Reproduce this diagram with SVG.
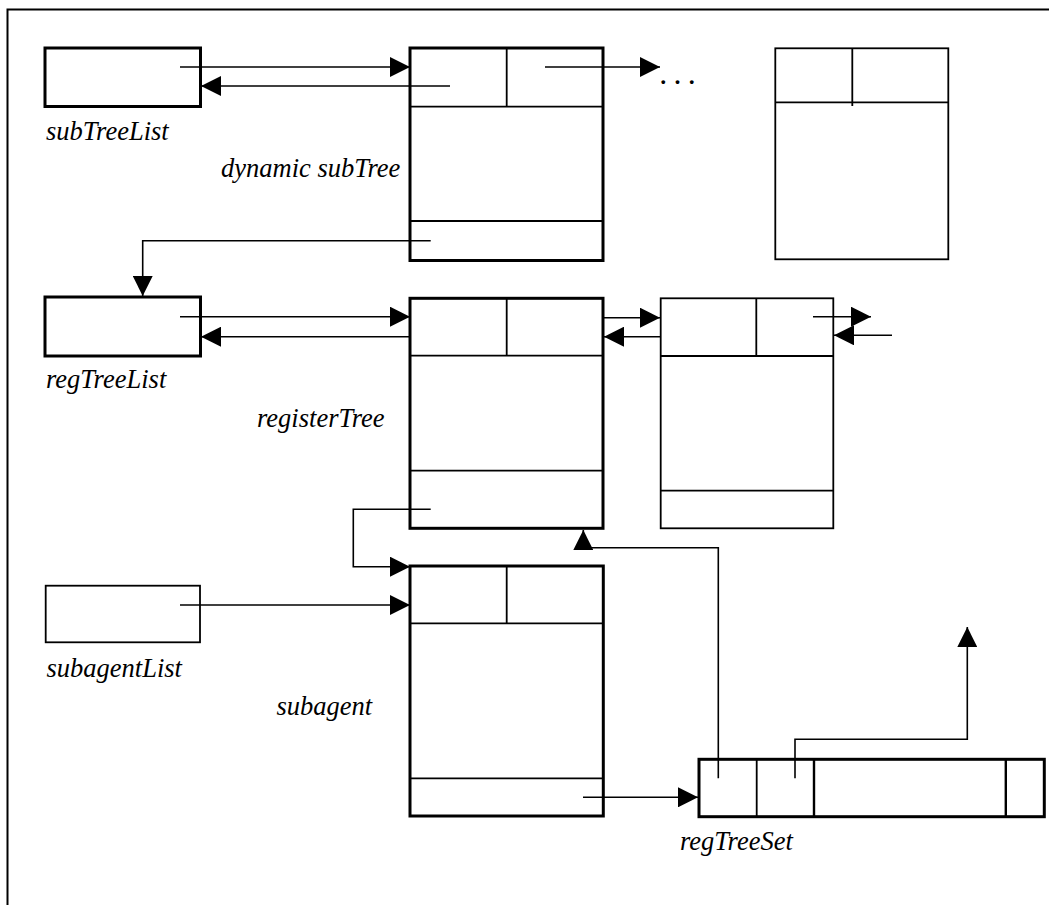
<svg xmlns="http://www.w3.org/2000/svg" width="1049" height="905" viewBox="0 0 1049 905">
<style>
  .thick { fill: #fff; stroke: #000; stroke-width: 3; }
  .thin { fill: #fff; stroke: #000; stroke-width: 1.8; }
  .div { fill: none; stroke: #000; stroke-width: 1.8; }
  .conn { fill: none; stroke: #000; stroke-width: 1.6; }
  .lbl { font-family: "Liberation Serif", "Times New Roman", serif; font-style: italic; font-size: 26.5px; fill: #000; }
  .dots { font-family: "Liberation Serif", "Times New Roman", serif; font-size: 32px; letter-spacing: -0.9px; fill: #000; }
</style>
<defs>
  <marker id="ah" markerUnits="userSpaceOnUse" markerWidth="20" markerHeight="20" viewBox="0 0 20 20" refX="20" refY="10" orient="auto">
    <path d="M0,0 L20,10 L0,20 z" fill="#000"/>
  </marker>
</defs>
<rect x="0" y="0" width="1049" height="905" fill="#fff"/>
<rect id="frame" x="7.5" y="9.5" width="1050" height="920" fill="none" stroke="#000" stroke-width="2"/>

<g id="subTreeList">
  <rect class="thick" x="45" y="48" width="155.5" height="58.5"/>
  <text class="lbl" x="46" y="140">subTreeList</text>
</g>

<g id="dynamicSubTree">
  <rect class="thick" x="410" y="48" width="193" height="212.5"/>
  <path class="div" d="M410,106.7 H603 M506.7,48 V106.7 M410,221 H603"/>
  <text class="lbl" x="221" y="176.7">dynamic subTree</text>
</g>

<g id="nextSubTree">
  <rect class="thin" x="775.3" y="48.3" width="173" height="211"/>
  <path class="div" d="M775.3,102.3 H948.3 M852.3,48.3 V106"/>
</g>

<g id="ellipsis">
  <text class="dots" x="659.3" y="83.5">. . .</text>
</g>

<g id="regTreeList">
  <rect class="thick" x="45" y="297" width="155.5" height="59"/>
  <text class="lbl" x="46" y="388">regTreeList</text>
</g>

<g id="registerTree">
  <rect class="thick" x="410" y="298.3" width="193" height="230"/>
  <path class="div" d="M410,355.7 H603 M506.7,298.3 V355.7 M410,470.7 H603"/>
  <text class="lbl" x="257" y="426.7">registerTree</text>
</g>

<g id="registerTree2">
  <rect class="thin" x="660.7" y="298.3" width="172.6" height="230"/>
  <path class="div" d="M660.7,356 H833.3 M756.3,298.3 V356 M660.7,490.7 H833.3"/>
</g>

<g id="subagentList">
  <rect class="thin" x="45.7" y="585.7" width="154.3" height="56.6"/>
  <text class="lbl" x="46.5" y="676.7">subagentList</text>
</g>

<g id="subagent">
  <rect class="thick" x="410" y="566" width="193.3" height="250"/>
  <path class="div" d="M410,623.3 H603.3 M506.7,566 V623.3 M410,778.3 H603.3"/>
  <text class="lbl" x="276.5" y="715">subagent</text>
</g>

<g id="regTreeSet">
  <rect class="thick" x="699" y="759.3" width="345.3" height="57.4"/>
  <path class="div" d="M756.7,759.3 V816.7"/>
  <path class="div" style="stroke-width:2.4" d="M814,759.3 V816.7 M1005.8,759.3 V816.7"/>
  <text class="lbl" x="680" y="850">regTreeSet</text>
</g>

<g id="connectors">
  <path class="conn" d="M180,67 H410" marker-end="url(#ah)"/>
  <path class="conn" d="M450,86 H201" marker-end="url(#ah)"/>
  <path class="conn" d="M545,67 H660" marker-end="url(#ah)"/>
  <path class="conn" d="M430.7,240.7 H142.7 V296" marker-end="url(#ah)"/>
  <path class="conn" d="M180,316.7 H410" marker-end="url(#ah)"/>
  <path class="conn" d="M410,336.7 H201" marker-end="url(#ah)"/>
  <path class="conn" d="M603,317.7 H660" marker-end="url(#ah)"/>
  <path class="conn" d="M660,336.7 H604" marker-end="url(#ah)"/>
  <path class="conn" d="M813,316.7 H871" marker-end="url(#ah)"/>
  <path class="conn" d="M892,335.3 H834" marker-end="url(#ah)"/>
  <path class="conn" d="M430.7,509.3 H353.3 V566.7 H410" marker-end="url(#ah)"/>
  <path class="conn" d="M180,605 H410" marker-end="url(#ah)"/>
  <path class="conn" d="M583,797.3 H698" marker-end="url(#ah)"/>
  <path class="conn" d="M718.3,778.3 V547.7 H583.3 V530" marker-end="url(#ah)"/>
  <path class="conn" d="M795,778.3 V739.3 H967.3 V627" marker-end="url(#ah)"/>
</g>
</svg>
